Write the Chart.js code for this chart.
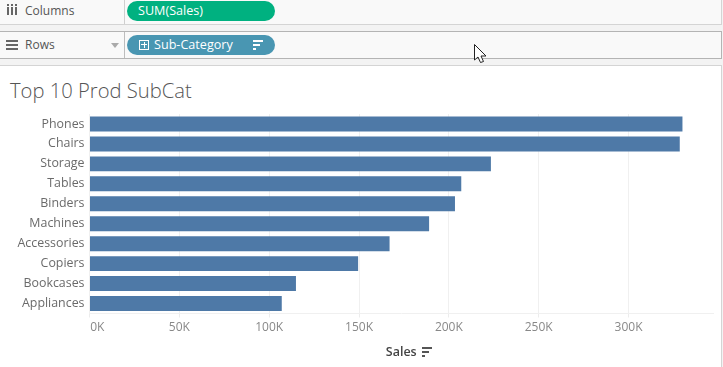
<!DOCTYPE html>
<html>
<head>
<meta charset="utf-8">
<script src="https://cdn.jsdelivr.net/npm/chart.js@4"></script>
<style>
  html, body { margin: 0; padding: 0; background: #f3f3f3; overflow: hidden; }
  body { width: 723px; height: 367px; position: relative; font-family: "Open Sans", sans-serif; }
  .abs { position: absolute; box-sizing: border-box; }
  .shelf { background: #f9f9f9; left: 0; width: 722px; }
  .label { font-size: 12px; color: #555; line-height: 16px; }
  .pill { left: 127px; width: 148px; height: 20px; border-radius: 10px; color: #fff; font-size: 12.6px; line-height: 20px; }
  #chartBox { left: 0; top: 0; width: 723px; height: 367px; }
</style>
</head>
<body>
  <!-- shelves -->
  <div class="abs shelf" style="top:0;height:25px;border-bottom:1px solid #d4d4d4;border-right:1px solid #d4d4d4"></div>
  <div class="abs shelf" style="top:31px;height:28px;border:1px solid #b4b4b4;border-left:0"></div>
  <div class="abs" style="left:124px;top:0;width:1px;height:24px;background:#cfcfcf"></div>
  <div class="abs" style="left:124px;top:32px;width:1px;height:26px;background:#bdbdbd"></div>

  <div class="abs label" style="left:25px;top:3px">Columns</div>
  <div class="abs label" style="left:25px;top:37px">Rows</div>
  <div class="abs" style="left:7px;top:7px;width:2px;height:8px;background:#666;box-shadow:4px 0 #666,8px 0 #666"></div>
  <div class="abs" style="left:7px;top:4px;width:2px;height:2px;background:#666;box-shadow:4px 0 #666,8px 0 #666"></div>
  <div class="abs" style="left:6px;top:40px;width:12px;height:2px;background:#666;box-shadow:0 4px #666,0 8px #666"></div>
  <div class="abs" style="left:111px;top:43px;border:4px solid transparent;border-top:5px solid #aaa"></div>

  <div class="abs pill" style="top:1px;background:#00b180;padding-left:11px">SUM(Sales)</div>
  <div class="abs pill" style="top:35px;background:#4996b2;padding-left:27px">Sub-Category</div>
  <div class="abs" style="left:139px;top:40px;width:10px;height:10px;border:1px solid #fff"></div>
  <div class="abs" style="left:141px;top:44px;width:6px;height:1px;background:#fff"></div>
  <div class="abs" style="left:144px;top:42px;width:1px;height:6px;background:#fff"></div>
  <div class="abs" style="left:253px;top:40px;width:10px;height:2px;background:#fff"></div>
  <div class="abs" style="left:253px;top:44px;width:7px;height:2px;background:#fff"></div>
  <div class="abs" style="left:253px;top:48px;width:3px;height:2px;background:#fff"></div>

  <!-- view panel -->
  <div class="abs" style="left:0;top:65px;width:722px;height:302px;background:#fff;border-top:1px solid #d4d4d4;border-right:1px solid #d4d4d4"></div>
  <div class="abs" style="left:10px;top:76px;font-family:'Open Sans',sans-serif;font-weight:300;font-size:20.2px;line-height:28px;color:#555">Top 10 Prod SubCat</div>

  <div class="abs" id="chartBox"><canvas id="chart" width="723" height="367"></canvas></div>

  <!-- sort icon next to axis title -->
  <div class="abs" style="left:422px;top:347px;width:10px;height:2px;background:#555"></div>
  <div class="abs" style="left:422px;top:351px;width:7px;height:2px;background:#555"></div>
  <div class="abs" style="left:422px;top:355px;width:3px;height:2px;background:#555"></div>

  <!-- mouse cursor -->
  <svg class="abs" style="left:474px;top:44px" width="14" height="21" viewBox="0 0 14 21">
    <path d="M0.5 0.5 L0.5 16 L4 13 L6.5 18.5 L9.5 17.5 L7 12 L12 12 Z" fill="#fff" stroke="#222" stroke-width="1"/>
  </svg>

<script>
const categories = ["Phones", "Chairs", "Storage", "Tables", "Binders", "Machines", "Accessories", "Copiers", "Bookcases", "Appliances"];
const salesValues = [330000, 328500, 223400, 206900, 203400, 189000, 167000, 149500, 114900, 107000];
const xMax = 347000;
const xStep = 50000;

new Chart(document.getElementById("chart"), {
  type: "bar",
  data: {
    labels: categories,
    datasets: [
      {
        label: "Sales",
        data: salesValues,
        backgroundColor: "#4e79a7",
        barPercentage: 0.75,
        categoryPercentage: 1,
      },
    ],
  },
  options: {
    indexAxis: "y",
    responsive: false,
    animation: false,
    layout: { padding: { top: 114, right: 10, left: 0, bottom: 0 } },
    plugins: { legend: { display: false }, tooltip: { enabled: false } },
    scales: {
      x: {
        beginAtZero: true,
        max: xMax,
        afterFit: (axis) => { axis.height = 53.5; },
        grid: { color: "#f0f0f0", tickColor: "#ececec", tickLength: 4 },
        border: { color: "#f0f0f0" },
        title: {
          display: true,
          text: "Sales",
          color: "#444",
          font: { family: "'Open Sans'", size: 12.5, weight: "600" },
          padding: { top: 0, bottom: 7 },
        },
        ticks: {
          stepSize: xStep,
          includeBounds: false,
          maxRotation: 0,
          autoSkip: false,
          color: "#888",
          padding: 3,
          font: { family: "'Open Sans'", size: 12 },
          callback: (v) => (v === 0 ? "\u00a0\u00a0\u00a0\u00a0\u00a00K" : v / 1000 + "K"),
        },
      },
      y: {
        afterFit: (axis) => { axis.width = 89.5; },
        grid: { display: false, tickLength: 0 },
        border: { display: false },
        ticks: {
          color: "#6a6a6a",
          padding: 5,
          font: { family: "'Open Sans'", size: 12.4 },
        },
      },
    },
  },
});
</script>
</body>
</html>
